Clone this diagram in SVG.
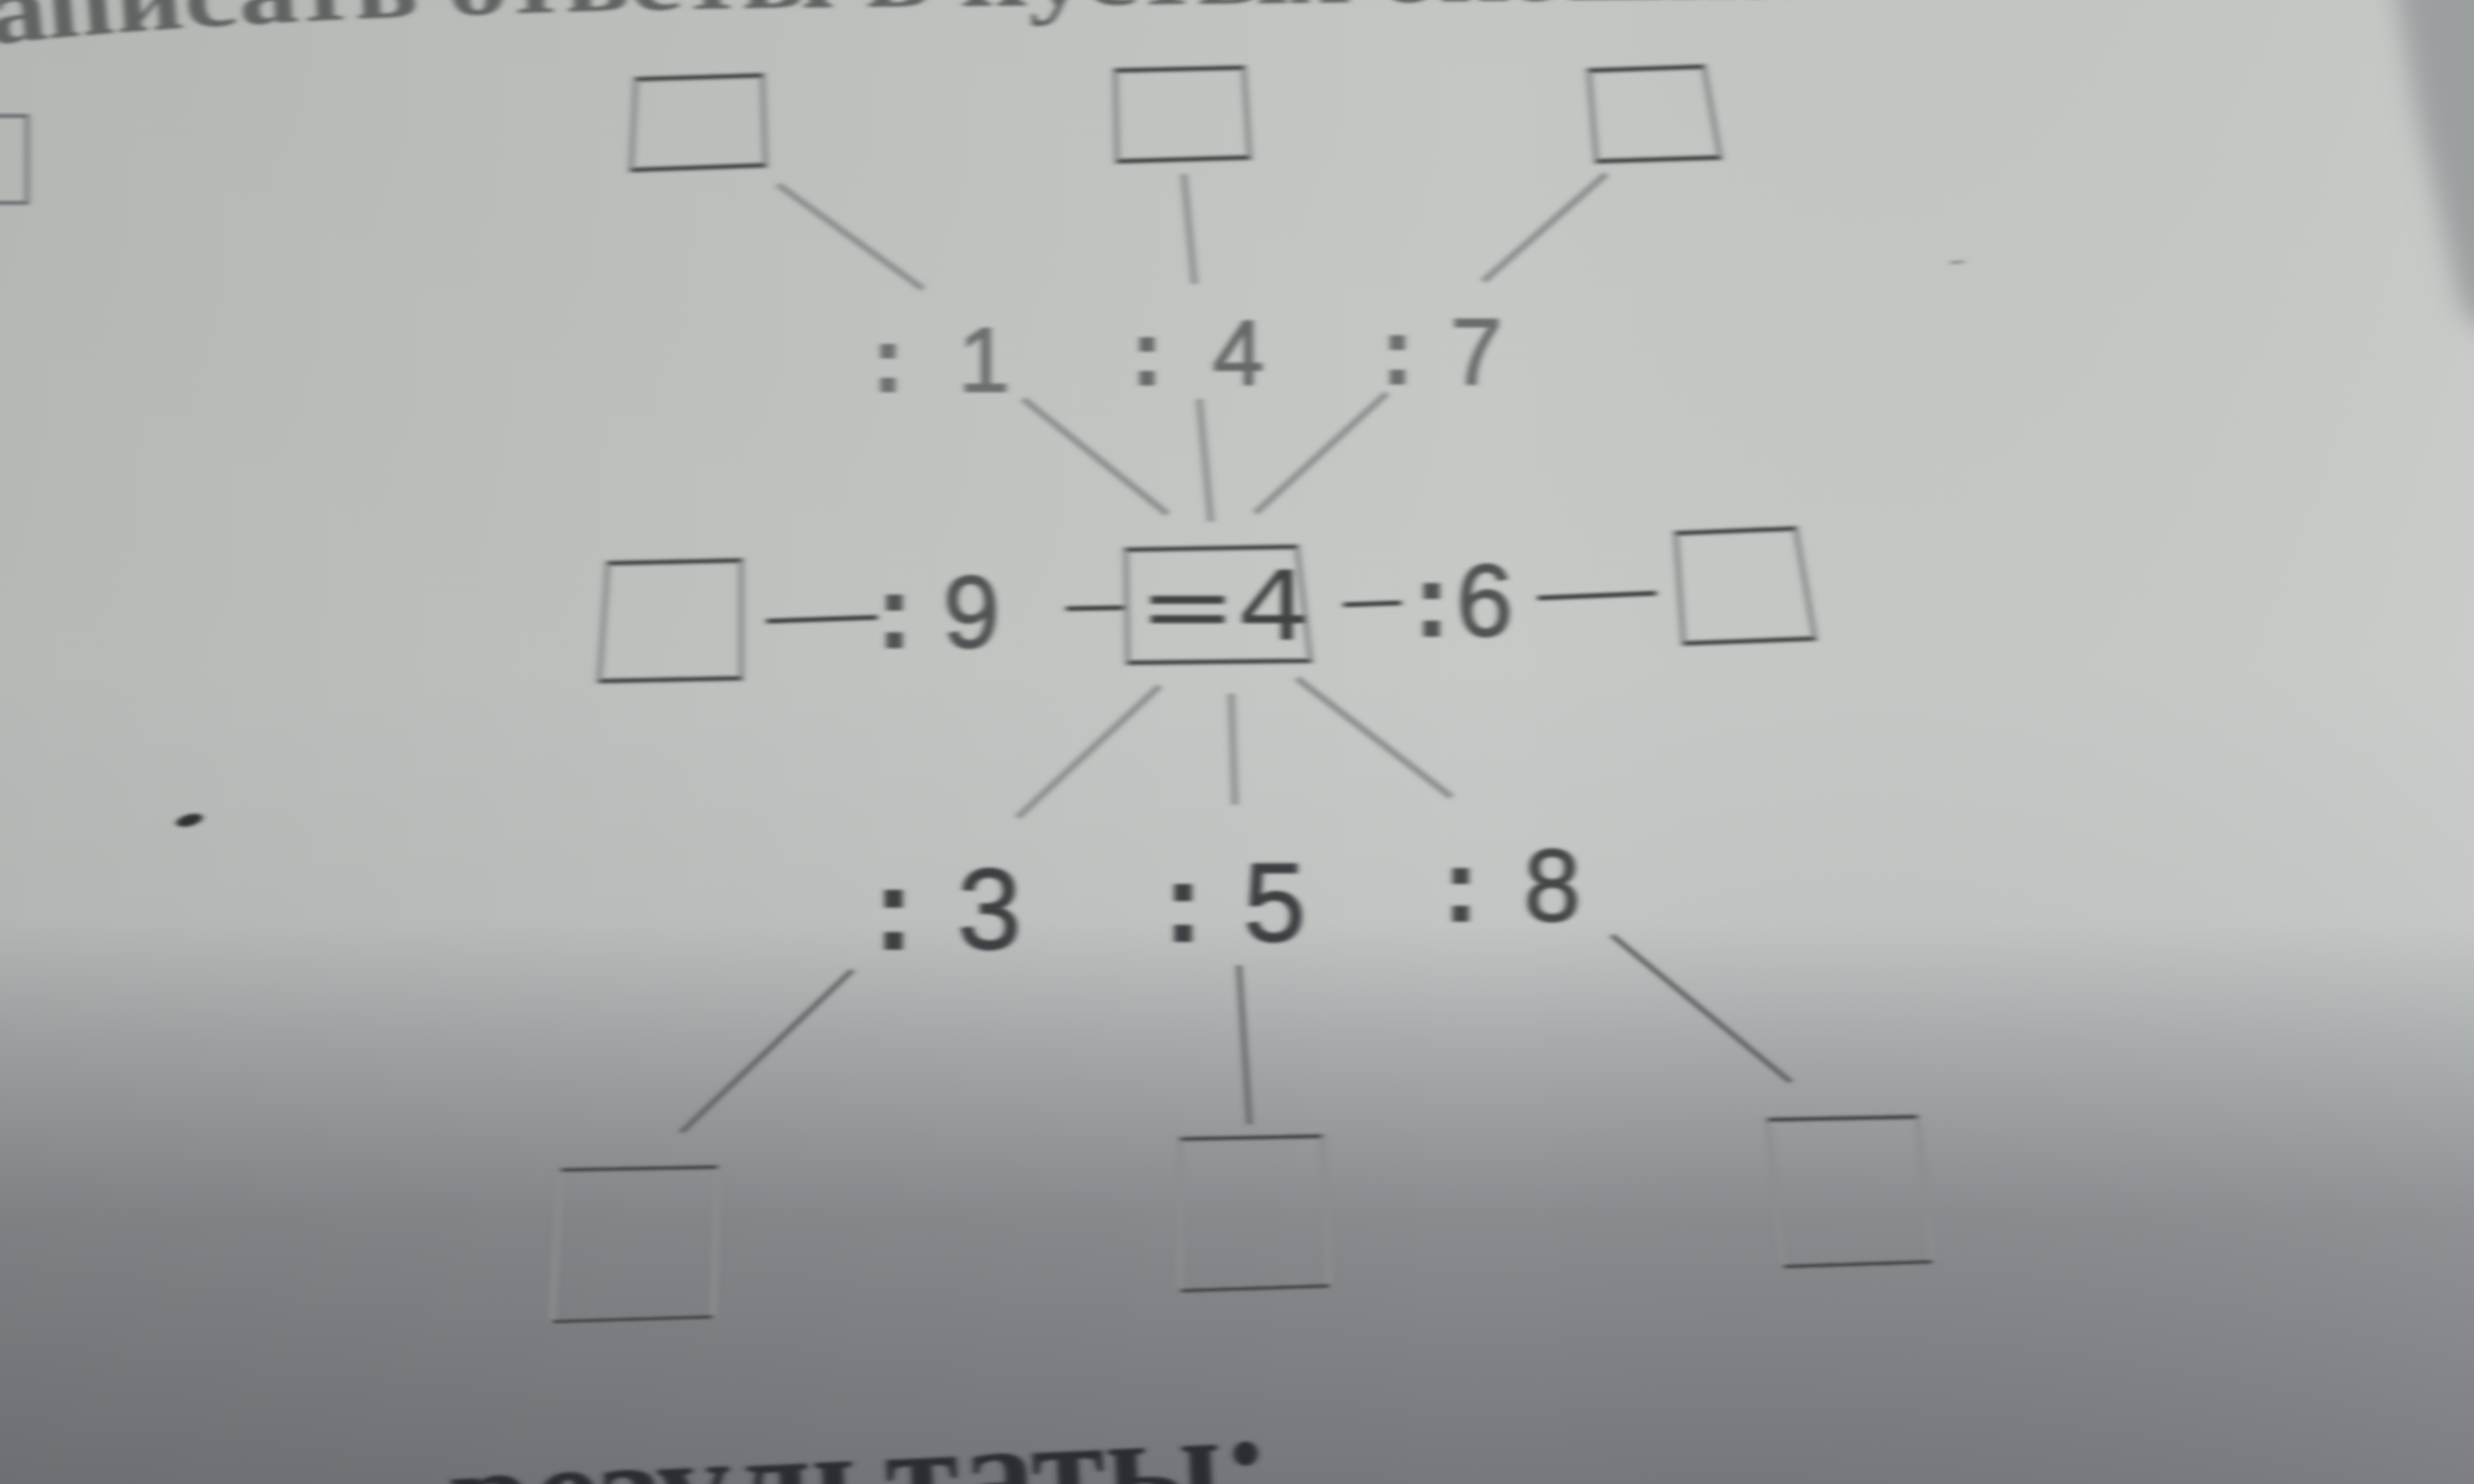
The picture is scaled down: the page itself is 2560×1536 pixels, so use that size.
<svg xmlns="http://www.w3.org/2000/svg" width="2560" height="1536" viewBox="0 0 2560 1536">
<defs>
<linearGradient id="bgv" x1="0" y1="0" x2="0" y2="1">
<stop offset="0" stop-color="#c3c6c3"/>
<stop offset="0.45" stop-color="#c6c9c6"/>
<stop offset="0.62" stop-color="#c2c5c3"/>
<stop offset="0.7" stop-color="#a9acad"/>
<stop offset="0.82" stop-color="#898b8f"/>
<stop offset="1" stop-color="#76787d"/>
</linearGradient>
<linearGradient id="bgh" x1="0" y1="0" x2="1" y2="0">
<stop offset="0" stop-color="#000" stop-opacity="0.08"/>
<stop offset="0.6" stop-color="#000" stop-opacity="0"/>
<stop offset="1" stop-color="#fff" stop-opacity="0.05"/>
</linearGradient>
<filter id="soft" x="-5%" y="-5%" width="110%" height="110%"><feGaussianBlur stdDeviation="3 1.5"/></filter>
<filter id="heavy" x="-50%" y="-50%" width="200%" height="200%"><feGaussianBlur stdDeviation="14"/></filter>
<path id="topline" d="M-10,46 Q300,12 900,7 T1960,-4"/>
<style>
.side{fill:none;stroke:#8b8e8d;stroke-width:6}
.edge{fill:none;stroke:#3e4141;stroke-width:4}
.con{stroke:#8e9190;stroke-width:7}
.conh{stroke:#3f4242;stroke-width:5}
.cond{stroke:#5c5f5f;stroke-width:5}
.lbl{font-family:"Liberation Sans",Arial,sans-serif;stroke-width:2}
.col{font-weight:bold}
.head{font-family:"Liberation Serif","Times New Roman",serif;font-weight:bold}
</style>
</defs>
<rect x="0" y="0" width="2560" height="1536" fill="url(#bgv)"/>
<rect x="0" y="0" width="2560" height="1536" fill="url(#bgh)"/>
<polygon points="2474,-40 2620,-40 2620,380 2548,320 2502,120" fill="#9c9fa0" filter="url(#heavy)"/>

<g filter="url(#soft)">
<text class="head" font-size="100" fill="#606362"><textPath href="#topline" textLength="1930" lengthAdjust="spacingAndGlyphs">аписать ответы в пустых окошках</textPath></text>
<text class="head" font-size="155" fill="#2c2f33" transform="rotate(-2.6 475 1602)" x="468" y="1602">результаты:</text>
<rect x="-60" y="120" width="88" height="90" fill="none" stroke="#6a6e72" stroke-width="4"/>
<ellipse cx="196" cy="849" rx="14" ry="6" fill="#2f3133" transform="rotate(-15 196 849)"/>
<line x1="2018" y1="272" x2="2032" y2="271" stroke="#8a8d8c" stroke-width="3"/>

<g id="connectors">
<line class="con" x1="805" y1="191" x2="955" y2="299"/>
<line class="con" x1="1059" y1="413" x2="1208" y2="532"/>
<line class="con" x1="1225" y1="180" x2="1236" y2="294"/>
<line class="con" x1="1241" y1="413" x2="1253" y2="540"/>
<line class="con" x1="1662" y1="180" x2="1535" y2="291"/>
<line class="con" x1="1435" y1="407" x2="1299" y2="531"/>
<line class="conh" x1="793" y1="643" x2="908" y2="639"/>
<line class="conh" x1="1103" y1="630" x2="1163" y2="629"/>
<line class="conh" x1="1390" y1="626" x2="1450" y2="624"/>
<line class="conh" x1="1591" y1="619" x2="1714" y2="614"/>
<line class="con" x1="1200" y1="710" x2="1053" y2="846"/>
<line class="cond" x1="882" y1="1004" x2="705" y2="1172"/>
<line class="con" x1="1274" y1="718" x2="1278" y2="833"/>
<line class="cond" x1="1282" y1="999" x2="1293" y2="1164"/>
<line class="con" x1="1342" y1="702" x2="1502" y2="825"/>
<line class="cond" x1="1668" y1="968" x2="1853" y2="1120"/>
</g>

<g id="box-top-left"><polygon class="side" points="658,82 789,78 792,171 653,176"/><path class="edge" d="M658,82 L789,78 M653,176 L792,171"/></g>
<g id="box-top-mid"><polygon class="side" points="1154,73 1287,70 1293,163 1156,167"/><path class="edge" d="M1154,73 L1287,70 M1156,167 L1293,163"/></g>
<g id="box-top-right"><polygon class="side" points="1644,73 1763,69 1780,163 1652,167"/><path class="edge" d="M1644,73 L1763,69 M1652,167 L1780,163"/></g>
<g id="box-left"><polygon class="side" points="629,583 767,580 767,702 620,705"/><path class="edge" d="M629,583 L767,580 M620,705 L767,702"/></g>
<g id="box-right"><polygon class="side" points="1734,552 1858,547 1878,661 1742,666"/><path class="edge" d="M1734,552 L1858,547 M1742,666 L1878,661"/></g>
<g id="box-center"><polygon class="side" points="1165,569 1342,566 1356,684 1167,686"/><path class="edge" d="M1165,569 L1342,566 M1167,686 L1356,684"/>
<text font-family="DejaVu Sans, sans-serif" font-size="100" fill="#3f4343" x="1178" y="662" textLength="179" lengthAdjust="spacingAndGlyphs">=4</text></g>
<g id="box-bottom-left"><polygon class="side" points="580,1211 743,1208 738,1363 571,1368"/><path class="edge" d="M580,1211 L743,1208 M571,1368 L738,1363"/></g>
<g id="box-bottom-mid"><polygon class="side" points="1221,1179 1368,1176 1376,1331 1221,1336"/><path class="edge" d="M1221,1179 L1368,1176 M1221,1336 L1376,1331"/></g>
<g id="box-bottom-right"><polygon class="side" points="1829,1159 1984,1156 2000,1306 1845,1311"/><path class="edge" d="M1829,1159 L1984,1156 M1845,1311 L2000,1306"/></g>

<g id="op-1"><text class="lbl" font-size="95" fill="#6c6f6e" stroke="#6c6f6e" y="405"><tspan class="col" x="903">:</tspan> <tspan x="992">1</tspan></text></g>
<g id="op-4"><text class="lbl" font-size="95" fill="#666968" stroke="#666968" y="398"><tspan class="col" x="1171">:</tspan> <tspan x="1255">4</tspan></text></g>
<g id="op-7"><text class="lbl" font-size="96" fill="#6a6d6c" stroke="#6a6d6c" y="397"><tspan class="col" x="1430">:</tspan> <tspan x="1501">7</tspan></text></g>
<g id="op-9"><text class="lbl" font-size="105" fill="#4f5252" stroke="#4f5252" y="670"><tspan class="col" x="908">:</tspan> <tspan x="976">9</tspan></text></g>
<g id="op-6"><text class="lbl" font-size="105" fill="#4f5252" stroke="#4f5252" y="658"><tspan class="col" x="1464">:</tspan><tspan x="1507">6</tspan></text></g>
<g id="op-3"><text class="lbl" font-size="118" fill="#3e4142" stroke="#3e4142" y="982"><tspan class="col" x="905">:</tspan> <tspan x="991">3</tspan></text></g>
<g id="op-5"><text class="lbl" font-size="115" fill="#3e4142" stroke="#3e4142" y="974"><tspan class="col" x="1205">:</tspan> <tspan x="1287">5</tspan></text></g>
<g id="op-8"><text class="lbl" font-size="105" fill="#444747" stroke="#444747" y="953"><tspan class="col" x="1494">:</tspan> <tspan x="1577">8</tspan></text></g>
</g>
</svg>
